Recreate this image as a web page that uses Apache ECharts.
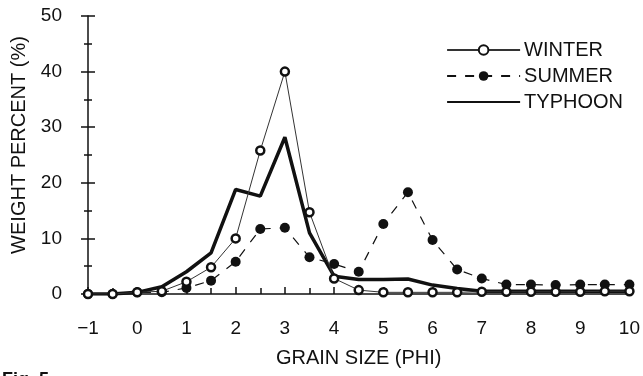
<!DOCTYPE html>
<html>
<head>
<meta charset="utf-8">
<style>
  html, body { margin: 0; padding: 0; background: #fff; }
  #main { width: 643px; height: 376px; }
</style>
<script src="https://cdn.jsdelivr.net/npm/echarts@6/dist/echarts.min.js"></script>
</head>
<body>
<div id="main"></div>
<script>
// grain size classes (phi)
var phi = [-1, -0.5, 0, 0.5, 1, 1.5, 2, 2.5, 3, 3.5, 4, 4.5, 5, 5.5, 6, 6.5, 7, 7.5, 8, 8.5, 9, 9.5, 10];
var winter = [0, 0, 0.3, 0.5, 2.2, 4.8, 10, 25.8, 40, 14.7, 2.8, 0.7, 0.3, 0.3, 0.3, 0.3, 0.4, 0.4, 0.4, 0.4, 0.4, 0.5, 0.5];
var summer = [0, 0, 0.3, 0.3, 1.1, 2.4, 5.8, 11.7, 11.9, 6.6, 5.4, 4.0, 12.6, 18.3, 9.7, 4.4, 2.8, 1.7, 1.7, 1.6, 1.7, 1.7, 1.7];
var typhoon = [0, 0, 0.3, 1.3, 4.0, 7.4, 18.8, 17.6, 28.2, 11, 3.2, 2.6, 2.6, 2.7, 1.6, 1.0, 0.5, 0.5, 0.5, 0.5, 0.5, 0.5, 0.5];
var xTicks = [-1, 0, 1, 2, 3, 4, 5, 6, 7, 8, 9, 10];
var yTicks = [0, 10, 20, 30, 40, 50];

function pairs(vals) {
  return phi.map(function (p, i) { return [p, vals[i]]; });
}

var font = 'Liberation Sans, Arial, sans-serif';
var ink = '#111';
var chart = echarts.init(document.getElementById('main'));

chart.setOption({
  animation: false,
  backgroundColor: '#fff',
  grid: { left: 88, right: 9, top: 16, bottom: 82, containLabel: false },
  legend: {
    orient: 'vertical',
    right: 15,
    top: 35,
    itemWidth: 73,
    itemHeight: 12,
    itemGap: 6,
    textStyle: { fontFamily: font, fontSize: 20, lineHeight: 20, color: ink, padding: [0, 0, 0, -1] },
    data: ['WINTER', 'SUMMER', { name: 'TYPHOON', itemStyle: { opacity: 0 } }]
  },
  xAxis: {
    type: 'value',
    min: xTicks[0],
    max: xTicks[xTicks.length - 1],
    interval: 1,
    name: 'GRAIN SIZE (PHI)',
    nameLocation: 'middle',
    nameGap: 54,
    nameTextStyle: { fontFamily: font, fontSize: 20, color: ink },
    axisLine: { lineStyle: { color: ink, width: 1.5 } },
    axisTick: { inside: true, length: 7, lineStyle: { color: ink, width: 1.5 } },
    minorTick: { show: true, splitNumber: 2, length: 6, lineStyle: { color: ink, width: 1.5 } },
    splitLine: { show: false },
    axisLabel: {
      margin: 25,
      fontFamily: font, fontSize: 19, color: ink,
      formatter: function (v) { return String(v).replace('-', '\u2212'); }
    }
  },
  yAxis: [{
    type: 'value',
    min: yTicks[0],
    max: yTicks[yTicks.length - 1],
    interval: 10,
    name: 'WEIGHT PERCENT (%)',
    nameLocation: 'middle',
    nameGap: 56,
    nameTextStyle: { fontFamily: font, fontSize: 20, color: ink, padding: [0, 0, 0, 20] },
    axisLine: { show: true, onZero: false, lineStyle: { color: ink, width: 1.5 } },
    axisTick: { show: true, length: 7, lineStyle: { color: ink, width: 1.5 } },
    minorTick: { show: true, splitNumber: 2, length: 4, lineStyle: { color: ink, width: 1.5 } },
    splitLine: { show: false },
    axisLabel: { margin: 26, fontFamily: font, fontSize: 19, color: ink }
  }, {
    type: 'value',
    position: 'left',
    min: yTicks[0],
    max: yTicks[yTicks.length - 1],
    interval: 10,
    axisLine: { show: false, onZero: false },
    axisTick: { show: true, inside: true, length: 7, lineStyle: { color: ink, width: 1.5 } },
    minorTick: { show: true, splitNumber: 2, length: 4, lineStyle: { color: ink, width: 1.5 } },
    splitLine: { show: false },
    axisLabel: { show: false }
  }],
  series: [{
    name: 'WINTER',
    type: 'line',
    data: pairs(winter),
    symbol: 'circle',
    symbolSize: 8,
    z: 4,
    itemStyle: { color: '#fff', borderColor: ink, borderWidth: 2.5 },
    lineStyle: { color: '#333', width: 1 }
  }, {
    name: 'SUMMER',
    type: 'line',
    data: pairs(summer),
    symbol: 'circle',
    symbolSize: 10,
    z: 3,
    itemStyle: { color: ink, borderColor: ink, borderWidth: 0 },
    lineStyle: { color: ink, width: 1.2, type: [9, 9] }
  }, {
    name: 'TYPHOON',
    type: 'line',
    data: pairs(typhoon),
    symbol: 'none',
    z: 2,
    itemStyle: { color: ink },
    lineStyle: { color: ink, width: 3.5 }
  }],
  graphic: [{
    type: 'text',
    left: 2,
    top: 371,
    style: { text: 'Fig. 5.', font: 'bold 18px ' + font, fill: ink }
  }]
});
</script>
</body>
</html>
